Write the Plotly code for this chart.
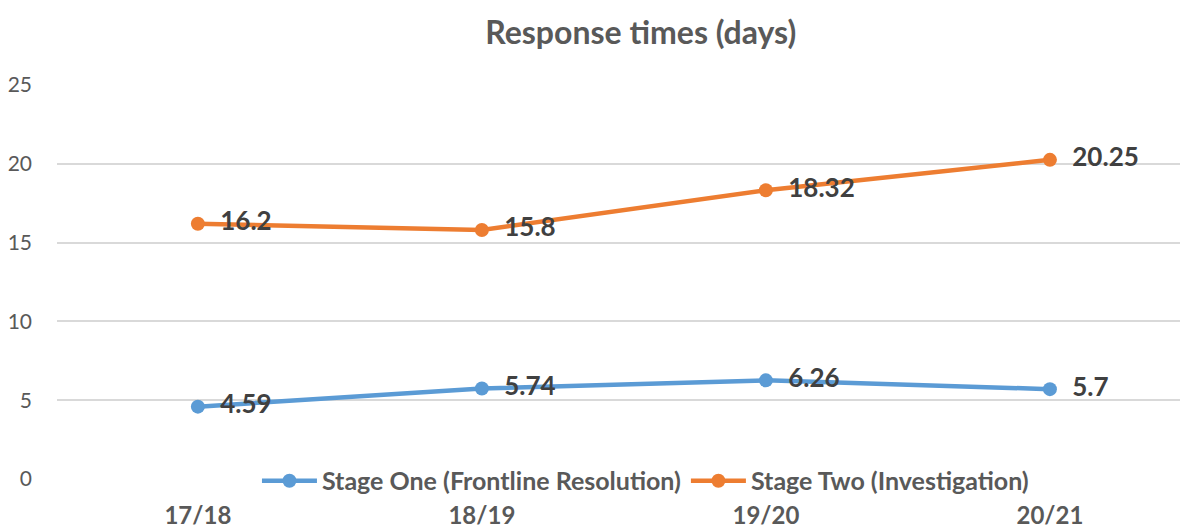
import plotly.graph_objects as go

categories = ["17/18", "18/19", "19/20", "20/21"]
stage_one = [4.59, 5.74, 6.26, 5.7]
stage_two = [16.2, 15.8, 18.32, 20.25]
y_ticks = [0, 5, 10, 15, 20, 25]

FONT = "Lato, 'Open Sans', sans-serif"
LABEL_FONT = dict(family=FONT, size=26, color="#404040", weight="bold")

fig = go.Figure()
fig.add_trace(go.Scatter(
    x=list(range(len(categories))), y=stage_one, name="Stage One (Frontline Resolution)",
    mode="lines+markers+text", text=["  " + str(v) for v in stage_one], textposition="middle right",
    textfont=LABEL_FONT,
    line=dict(color="#5B9BD5", width=4.5), marker=dict(color="#5B9BD5", size=14),
))
fig.add_trace(go.Scatter(
    x=list(range(len(categories))), y=stage_two, name="Stage Two (Investigation)",
    mode="lines+markers+text", text=["  " + str(v) for v in stage_two], textposition="middle right",
    textfont=LABEL_FONT,
    line=dict(color="#ED7D31", width=4.5), marker=dict(color="#ED7D31", size=14),
))

fig.update_layout(
    width=1180, height=530,
    margin=dict(l=57, r=0, t=85, b=51, autoexpand=False),
    paper_bgcolor="white", plot_bgcolor="white",
    title=dict(text="Response times (days)", x=0.543, xref="container", xanchor="center",
               y=0.938, yref="container", yanchor="middle",
               font=dict(family=FONT, size=32, color="#595959", weight="bold")),
    legend=dict(orientation="h", x=0.547, xanchor="center", xref="container",
                y=-0.005, yanchor="middle", bgcolor="rgba(0,0,0,0)",
                itemwidth=55, traceorder="normal",
                font=dict(family=FONT, size=25, color="#595959", weight="bold")),
    xaxis=dict(range=[-0.496, 3.458], tickmode="array", tickvals=list(range(len(categories))),
               ticktext=categories, showgrid=False, zeroline=False, showline=False,
               ticks="", ticklabelstandoff=20,
               tickfont=dict(family=FONT, size=24, color="#595959", weight="bold")),
    yaxis=dict(range=[0, 25], tickmode="array", tickvals=y_ticks, showgrid=True,
               gridcolor="#D9D9D9", gridwidth=1.5, zeroline=False, showline=False,
               ticks="", ticklabelstandoff=24,
               tickfont=dict(family=FONT, size=21, color="#595959")),
    showlegend=True,
)

fig.write_html("out.html", config={"displayModeBar": False},
               post_script="document.body.style.margin='0';")
